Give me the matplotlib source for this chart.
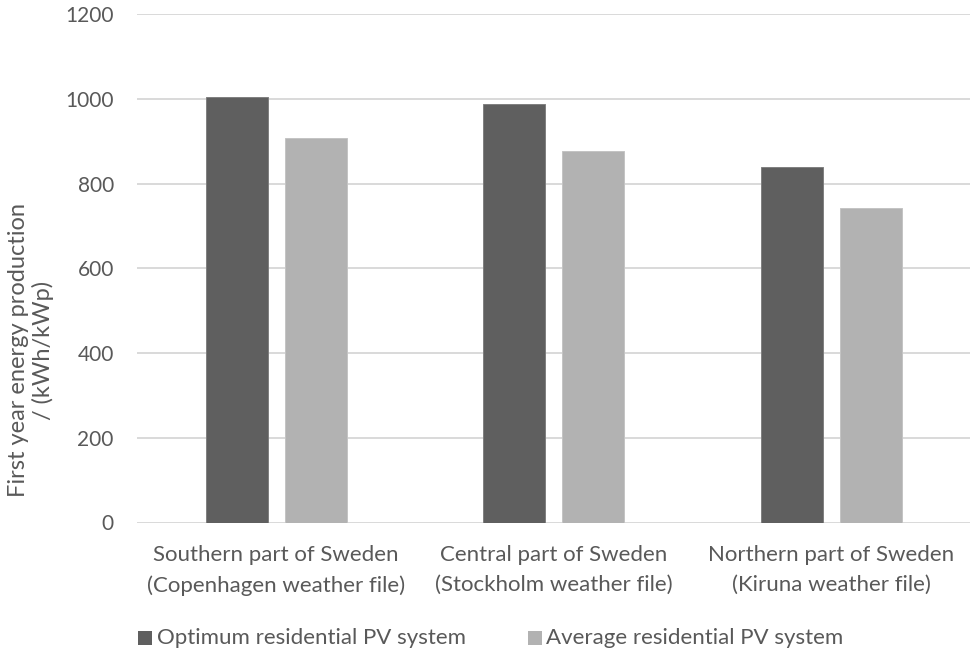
import matplotlib
matplotlib.use("Agg")
import matplotlib.pyplot as plt
import numpy as np
from matplotlib.patches import Rectangle

plt.rcParams['font.family'] = ['Lato', 'DejaVu Sans']

categories = ["Southern part of Sweden\n(Copenhagen weather file)",
              "Central part of Sweden\n(Stockholm weather file)",
              "Northern part of Sweden\n(Kiruna weather file)"]
series_names = ["Optimum residential PV system", "Average residential PV system"]
optimum = [1004, 988, 839]
average = [907, 877, 742]
y_ticks = [0, 200, 400, 600, 800, 1000, 1200]
y_label = "First year energy production\n/ (kWh/kWp)"

text_color = "#595959"
grid_color = "#D9D9D9"
colors = ["#5F5F5F", "#B2B2B2"]
edges = ["#808080", "#C4C4C4"]

W, H = 971, 650
fig = plt.figure(figsize=(W / 100, H / 100), dpi=100)
ax = fig.add_axes([137.4 / W, 1 - 522.5 / H, (970.2 - 137.4) / W, (522.5 - 14.3) / H])

x = np.arange(len(categories))
bw = 0.223
off = 0.1425
ax.bar(x - off, optimum, bw, color=colors[0], edgecolor=edges[0], linewidth=0.7, zorder=3)
ax.bar(x + off, average, bw, color=colors[1], edgecolor=edges[1], linewidth=0.7, zorder=3)

ax.set_xlim(-0.5, len(categories) - 0.5)
ax.set_ylim(0, 1200)
ax.set_yticks(y_ticks)
ax.set_yticklabels([str(v) for v in y_ticks], fontsize=15, color=text_color)
ax.set_xticks(x)
ax.set_xticklabels(categories, fontsize=16, color=text_color, linespacing=1.65)
ax.tick_params(axis='both', length=0)
ax.tick_params(axis='y', pad=17)
ax.tick_params(axis='x', pad=16)

for s in ax.spines.values():
    s.set_visible(False)
ax.yaxis.grid(True, color=grid_color, linewidth=1.4, zorder=0)
ax.set_axisbelow(True)

fig.text(31 / W, 1 - 350 / H, y_label, rotation=90, ha='center', va='center',
         multialignment='center', fontsize=17, color=text_color, linespacing=1.2)

# legend: square swatch followed by the series name
legend_y = 638
swatch = 14
for name, c, sx, tx in zip(series_names, colors, [138, 528], [157, 546]):
    fig.patches.append(Rectangle((sx / W, 1 - (legend_y + swatch / 2) / H),
                                 swatch / W, swatch / H, transform=fig.transFigure,
                                 facecolor=c, edgecolor='none'))
    fig.text(tx / W, 1 - legend_y / H, name, ha='left', va='center',
             fontsize=16, color=text_color)

fig.savefig("out.png", dpi=100)
